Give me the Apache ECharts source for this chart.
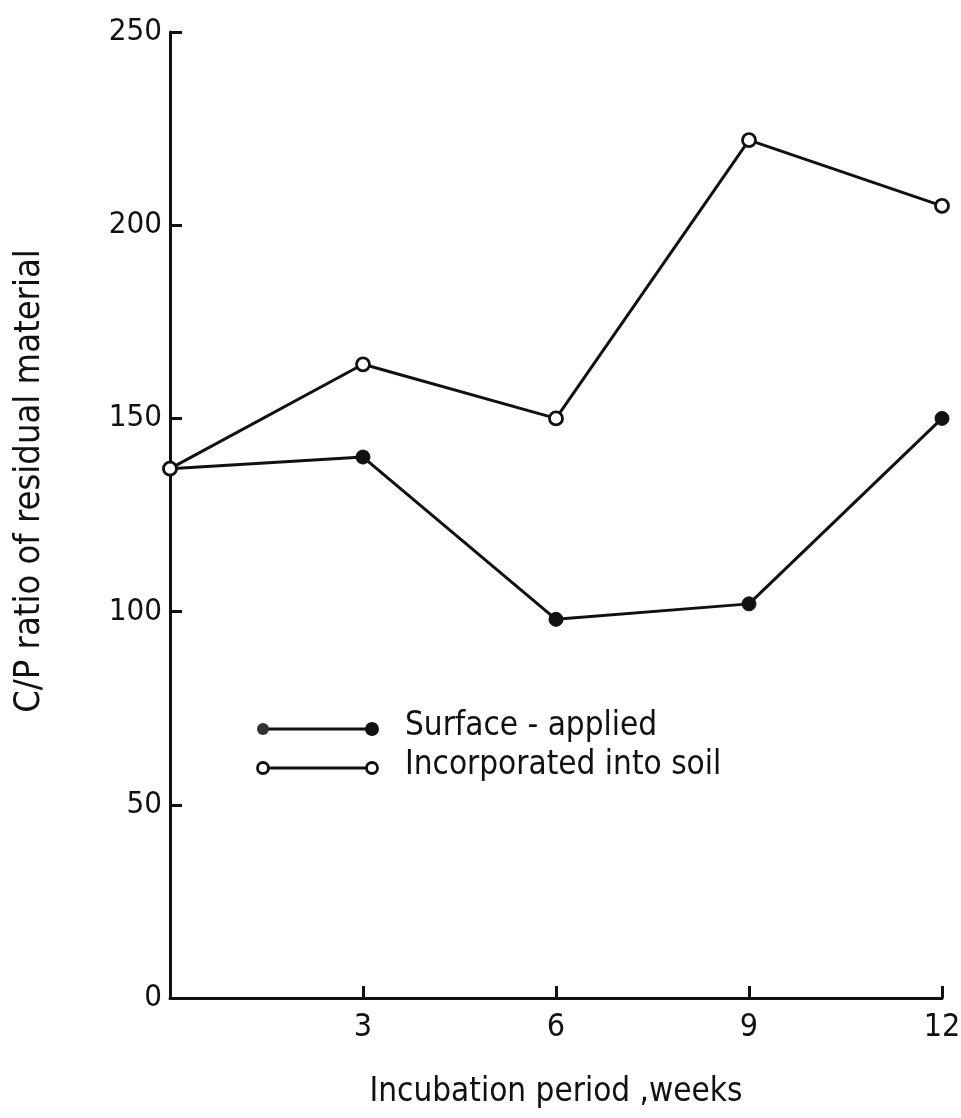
<!DOCTYPE html>
<html><head><meta charset="utf-8">
<script src="https://cdn.jsdelivr.net/npm/echarts@6/dist/echarts.min.js"></script>
<style>html,body{margin:0;padding:0;background:#fff}#c{width:961px;height:1118px}</style>
</head><body><div id="c"></div>
<script>
const weeks = [0, 3, 6, 9, 12];
const surfaceApplied = [137, 140, 98, 102, 150];
const incorporated = [137, 164, 150, 222, 205];
const seriesNames = ['Surface - applied', 'Incorporated into soil'];
const xTitle = 'Incubation period ,weeks';
const yTitle = 'C/P ratio of residual material';

const FONT = '"Liberation Sans Narrow", "DejaVu Sans Condensed", sans-serif';
const chart = echarts.init(document.getElementById('c'), null, {renderer: 'canvas'});
const pairs = (ys) => weeks.map((w, i) => [w, ys[i]]);
chart.setOption({
  backgroundColor: '#fff',
  animation: false,
  grid: {left: 170, right: 19, top: 32, bottom: 120, containLabel: false, outerBoundsMode: 'none'},
  xAxis: {
    type: 'value', min: 0, max: 12, interval: 3,
    name: xTitle, nameLocation: 'middle', nameGap: 78,
    nameTextStyle: {color: '#111', fontSize: 33, fontFamily: FONT},
    axisLine: {lineStyle: {color: '#111', width: 3}},
    axisTick: {inside: true, length: 12, lineStyle: {color: '#111', width: 3}},
    axisLabel: {color: '#111', fontSize: 32, fontFamily: FONT, margin: 14,
      formatter: v => v === 0 ? '' : String(v)},
    splitLine: {show: false}
  },
  yAxis: {
    type: 'value', min: 0, max: 250, interval: 50,
    name: yTitle, nameLocation: 'middle', nameGap: 122,
    nameTextStyle: {color: '#111', fontSize: 36, fontFamily: FONT, padding: [0, 0, 0, 68]},
    axisLine: {lineStyle: {color: '#111', width: 3}},
    axisTick: {inside: true, length: 12, lineStyle: {color: '#111', width: 3}},
    axisLabel: {color: '#111', fontSize: 31, fontFamily: FONT, margin: 8},
    splitLine: {show: false}
  },
  series: [
    {name: seriesNames[0], type: 'line', data: pairs(surfaceApplied),
     symbol: 'circle', symbolSize: 14, showSymbol: true,
     lineStyle: {color: '#111', width: 3},
     itemStyle: {color: '#111', borderColor: '#111', borderWidth: 1}},
    {name: seriesNames[1], type: 'line', data: pairs(incorporated),
     symbol: 'circle', symbolSize: 13, showSymbol: true,
     lineStyle: {color: '#111', width: 3},
     itemStyle: {color: '#fff', borderColor: '#111', borderWidth: 2.8}}
  ],
  graphic: [
    {type: 'line', shape: {x1: 263, y1: 729, x2: 372, y2: 729}, style: {stroke: '#111', lineWidth: 3}},
    {type: 'circle', shape: {cx: 263, cy: 729, r: 6}, style: {fill: '#333'}},
    {type: 'circle', shape: {cx: 372, cy: 729, r: 7}, style: {fill: '#111'}},
    {type: 'text', left: 405, top: 710, style: {text: seriesNames[0], fill: '#111', fontSize: 33, fontFamily: FONT}},
    {type: 'line', shape: {x1: 263, y1: 768, x2: 372, y2: 768}, style: {stroke: '#111', lineWidth: 3}},
    {type: 'circle', shape: {cx: 263, cy: 768, r: 5.5}, style: {fill: '#fff', stroke: '#111', lineWidth: 2.8}},
    {type: 'circle', shape: {cx: 372, cy: 768, r: 5.5}, style: {fill: '#fff', stroke: '#111', lineWidth: 2.8}},
    {type: 'text', left: 405, top: 749, style: {text: seriesNames[1], fill: '#111', fontSize: 33, fontFamily: FONT}}
  ]
});
</script></body></html>
